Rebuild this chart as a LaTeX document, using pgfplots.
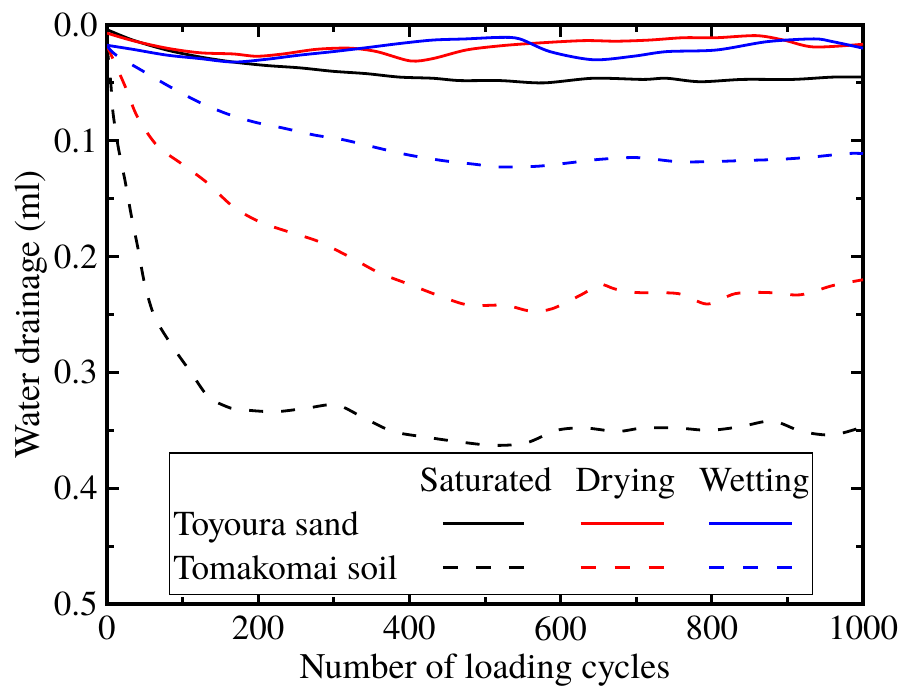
\documentclass[border=0pt]{standalone}
\usepackage{pgfplots}
\pgfplotsset{compat=1.18}
\usepackage{fontspec}
\setmainfont{TeX Gyre Termes}

\newcommand{\tickfont}{\fontsize{17.5}{21}\selectfont}
\newcommand{\labfont}{\fontsize{18}{22}\selectfont}
% legend cell helpers: reserve a fixed slot, then draw text or a sample line
\newcommand{\slot}[2]{\path (-#1,10.25pt) (#2,-10.25pt);}
\newcommand{\legtext}[1]{\node[font=\tickfont, inner sep=0pt, anchor=base west] at (0pt,-6pt) {#1};}
\newcommand{\leghead}[2]{\node[font=\tickfont, inner sep=0pt, anchor=base] at (#1,-6pt) {#2};}

\begin{document}
\begin{tikzpicture}
\begin{axis}[
  scale only axis, width=378pt, height=289.5pt,
  xmin=0, xmax=1000, ymin=0, ymax=0.5, y dir=reverse,
  xtick={0,200,400,600,800,1000},
  ytick={0,0.1,0.2,0.3,0.4,0.5},
  minor x tick num=1, minor y tick num=1,
  tick align=inside, major tick length=6pt, minor tick length=3.5pt,
  every tick/.style={black, line width=1.5pt},
  axis line style={line width=1.6pt},
  /pgf/number format/assume math mode=true,
  /pgf/number format/1000 sep={},
  tick label style={font=\tickfont},
  yticklabel style={/pgf/number format/.cd, fixed, fixed zerofill, precision=1, /tikz/.cd, xshift=-1.2pt},
  xticklabel style={yshift=-2.5pt},
  xlabel={Number of loading cycles},
  ylabel={Water drainage (ml)},
  label style={font=\labfont},
  xlabel style={at={(axis description cs:0.5,0)}, anchor=base, yshift=-37pt},
  ylabel style={at={(axis description cs:-0.0899,0.5)}, anchor=base},
  legend columns=4,
  legend style={at={(0.082,0.0155)}, anchor=south west, draw=black, line width=0.6pt,
    fill=white, inner xsep=0.5pt, inner ysep=2.5pt, column sep=0pt, row sep=0pt,
    nodes={inner sep=0pt}},
  every axis plot/.append style={line width=1.4pt, smooth},
]

% Toyoura sand, saturated
\addplot[black, forget plot] coordinates {
(0,0.004) (34,0.013) (79,0.0216) (123,0.0276) (167,0.032) (211,0.035)
(255,0.037) (299,0.040) (343,0.042) (387,0.045) (431,0.046) (467,0.048)
(520,0.048) (577,0.050) (643,0.046) (709,0.047) (740,0.046) (784,0.049)
(841,0.047) (907,0.047) (960,0.045) (1000,0.045)};

% Toyoura sand, drying
\addplot[red, forget plot] coordinates {
(0,0.007) (34,0.0135) (79,0.020) (123,0.024) (167,0.025) (198,0.027)
(233,0.025) (277,0.021) (321,0.020) (357,0.023) (401,0.031) (431,0.029)
(475,0.0216) (520,0.018) (564,0.0158) (630,0.0135) (674,0.014) (718,0.013)
(762,0.011) (806,0.011) (859,0.0092) (895,0.013) (935,0.019) (1000,0.0166)};

% Toyoura sand, wetting
\addplot[blue, forget plot] coordinates {
(0,0.0175) (34,0.021) (79,0.026) (123,0.029) (167,0.032) (211,0.0296)
(255,0.026) (299,0.023) (343,0.0196) (387,0.016) (431,0.013) (475,0.012)
(520,0.0107) (546,0.012) (586,0.023) (643,0.030) (696,0.027) (740,0.023)
(806,0.0216) (873,0.0144) (935,0.012) (960,0.0144) (1000,0.020)};

% Tomakomai soil, saturated
\addplot[black, dash pattern=on 7pt off 9pt, forget plot] coordinates {
(0,0.018) (5,0.050) (8,0.076) (15,0.106) (24,0.135) (32,0.164) (41,0.193)
(50,0.224) (63,0.252) (86,0.277) (111,0.300) (134,0.321) (160,0.330)
(176,0.332) (221,0.334) (263,0.331) (303,0.328) (339,0.339) (378,0.351)
(423,0.356) (466,0.360) (511,0.363) (554,0.361) (595,0.350) (632,0.348)
(675,0.351) (709,0.348) (754,0.348) (796,0.350) (837,0.347) (880,0.342)
(919,0.351) (960,0.354) (1000,0.347)};

% Tomakomai soil, drying
\addplot[red, dash pattern=on 7pt off 9pt, forget plot] coordinates {
(0,0.018) (7,0.028) (24,0.053) (40,0.079) (66,0.104) (99,0.120) (132,0.136)
(167,0.157) (202,0.170) (242,0.179) (280,0.187) (323,0.201) (360,0.214)
(400,0.224) (440,0.234) (479,0.242) (526,0.242) (560,0.247) (589,0.245)
(630,0.232) (652,0.224) (672,0.228) (700,0.231) (756,0.232) (794,0.241)
(831,0.232) (873,0.231) (917,0.233) (960,0.225) (1000,0.220)};

% Tomakomai soil, wetting
\addplot[blue, dash pattern=on 7pt off 9pt, forget plot] coordinates {
(0,0.018) (12,0.026) (48,0.040) (85,0.054) (123,0.067) (160,0.077)
(196,0.084) (233,0.089) (274,0.095) (312,0.099) (357,0.106) (397,0.112)
(443,0.117) (483,0.120) (520,0.1226) (569,0.122) (612,0.119) (652,0.116)
(701,0.1145) (754,0.118) (798,0.118) (844,0.117) (890,0.116) (933,0.114)
(979,0.111) (1000,0.111)};

% legend: header row, then one row per material
\addlegendimage{legend image code/.code={\slot{0pt}{117.5pt}}}
\addlegendentry{\mbox{}}
\addlegendimage{legend image code/.code={\slot{15.5pt}{58.5pt}\leghead{21.5pt}{Saturated}}}
\addlegendentry{\mbox{}}
\addlegendimage{legend image code/.code={\slot{8pt}{51pt}\leghead{22.5pt}{Drying}}}
\addlegendentry{\mbox{}}
\addlegendimage{legend image code/.code={\slot{11pt}{49.5pt}\leghead{22.5pt}{Wetting}}}
\addlegendentry{\mbox{}}

\addlegendimage{legend image code/.code={\slot{0pt}{117.5pt}\legtext{Toyoura sand}}}
\addlegendentry{\mbox{}}
\addlegendimage{legend image code/.code={\slot{15.5pt}{58.5pt}\draw[black, line width=1.4pt] (0pt,0pt) -- (40.5pt,0pt);}}
\addlegendentry{\mbox{}}
\addlegendimage{legend image code/.code={\slot{8pt}{51pt}\draw[red, line width=1.4pt] (0pt,0pt) -- (41.5pt,0pt);}}
\addlegendentry{\mbox{}}
\addlegendimage{legend image code/.code={\slot{11pt}{49.5pt}\draw[blue, line width=1.4pt] (0pt,0pt) -- (41.5pt,0pt);}}
\addlegendentry{\mbox{}}

\addlegendimage{legend image code/.code={\slot{0pt}{117.5pt}\legtext{Tomakomai soil}}}
\addlegendentry{\mbox{}}
\addlegendimage{legend image code/.code={\slot{15.5pt}{58.5pt}\draw[black, line width=1.4pt, dash pattern=on 7.5pt off 9pt] (0pt,0pt) -- (40.5pt,0pt);}}
\addlegendentry{\mbox{}}
\addlegendimage{legend image code/.code={\slot{8pt}{51pt}\draw[red, line width=1.4pt, dash pattern=on 7.5pt off 9.5pt] (0pt,0pt) -- (41.5pt,0pt);}}
\addlegendentry{\mbox{}}
\addlegendimage{legend image code/.code={\slot{11pt}{49.5pt}\draw[blue, line width=1.4pt, dash pattern=on 7.5pt off 9.5pt] (0pt,0pt) -- (41.5pt,0pt);}}
\addlegendentry{\mbox{}}
\end{axis}
\pgfresetboundingbox
\path[use as bounding box] ([shift={(-53.5pt,-42pt)}]current axis.south west)
  rectangle ([shift={(398.5pt,302pt)}]current axis.south west);
\end{tikzpicture}
\end{document}
